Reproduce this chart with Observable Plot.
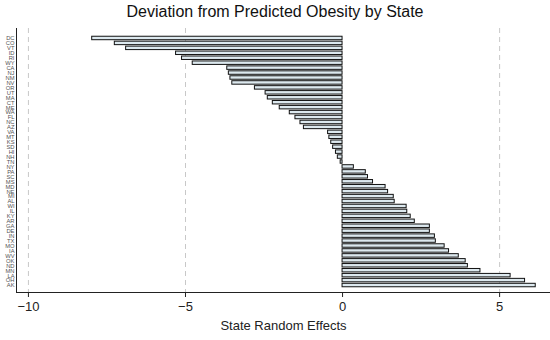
<!DOCTYPE html>
<html>
<head>
<meta charset="utf-8">
<script src="https://cdn.jsdelivr.net/npm/d3@7"></script>
<script src="https://cdn.jsdelivr.net/npm/@observablehq/plot@0.6"></script>
<style>
  html, body { margin: 0; padding: 0; background: #fff; }
  #title { height: 26px; line-height: 23px; text-align: center; font-family: "Liberation Sans", Arial, sans-serif; font-size: 16px; color: #111; width: 550px; }
</style>
</head>
<body>
<div id="title">Deviation from Predicted Obesity by State</div>
<div id="chart"></div>
<script>
const states = ["DC","CO","VT","ID","RI","WY","CA","NJ","NM","NV","OR","UT","MA","CT","ME","WA","FL","NC","AZ","VA","MT","KS","SD","HI","NH","TN","NY","PA","SC","MS","MD","NE","MI","AL","WI","IL","KY","AR","GA","DE","IN","TX","MO","IA","WV","OK","ND","MN","LA","OH","AK"];
const effects = [-7.97,-7.25,-6.89,-5.30,-5.11,-4.77,-3.67,-3.62,-3.57,-3.51,-2.79,-2.45,-2.38,-2.22,-2.00,-1.68,-1.50,-1.34,-1.23,-0.46,-0.42,-0.36,-0.30,-0.21,-0.15,-0.06,0.36,0.74,0.81,0.97,1.37,1.45,1.63,1.66,2.04,2.06,2.17,2.30,2.78,2.78,2.94,2.97,3.25,3.39,3.70,3.92,3.99,4.39,5.35,5.81,6.15];
const xTicks = [-10, -5, 0, 5];
const gridTicks = [-10, -5, 5];
const xDomain = [-10.38, 6.62];

const data = states.map((s, i) => ({state: s, value: effects[i]}));

const chart = Plot.plot({
  width: 550,
  height: 314,
  marginLeft: 16,
  marginRight: 0,
  marginTop: 2,
  marginBottom: 48,
  style: {fontFamily: "Liberation Sans, Arial, sans-serif", fontSize: "13px", color: "#222", background: "#fff"},
  x: {domain: xDomain},
  y: {domain: states, range: [9.5, 261.5], paddingInner: 0.3, paddingOuter: 0.15},
  marks: [
    Plot.gridX(gridTicks, {stroke: "#c8c8c8", strokeOpacity: 1, strokeDasharray: "5,4"}),
    Plot.barX(data, {x: "value", y: "state", fill: "#dde9ef", stroke: "#111", strokeWidth: 1}),
    Plot.frame({anchor: "left", stroke: "#222"}),
    Plot.frame({anchor: "bottom", stroke: "#222"}),
    Plot.axisY({tickSize: 0, tickPadding: 2, fontSize: 5.8, fill: "#555", label: null}),
    Plot.axisX({ticks: xTicks, tickSize: 5, tickPadding: 4, fontSize: 13, label: "State Random Effects", labelArrow: "none", labelAnchor: "center", labelOffset: 37})
  ]
});
document.getElementById("chart").appendChild(chart);
</script>
</body>
</html>
